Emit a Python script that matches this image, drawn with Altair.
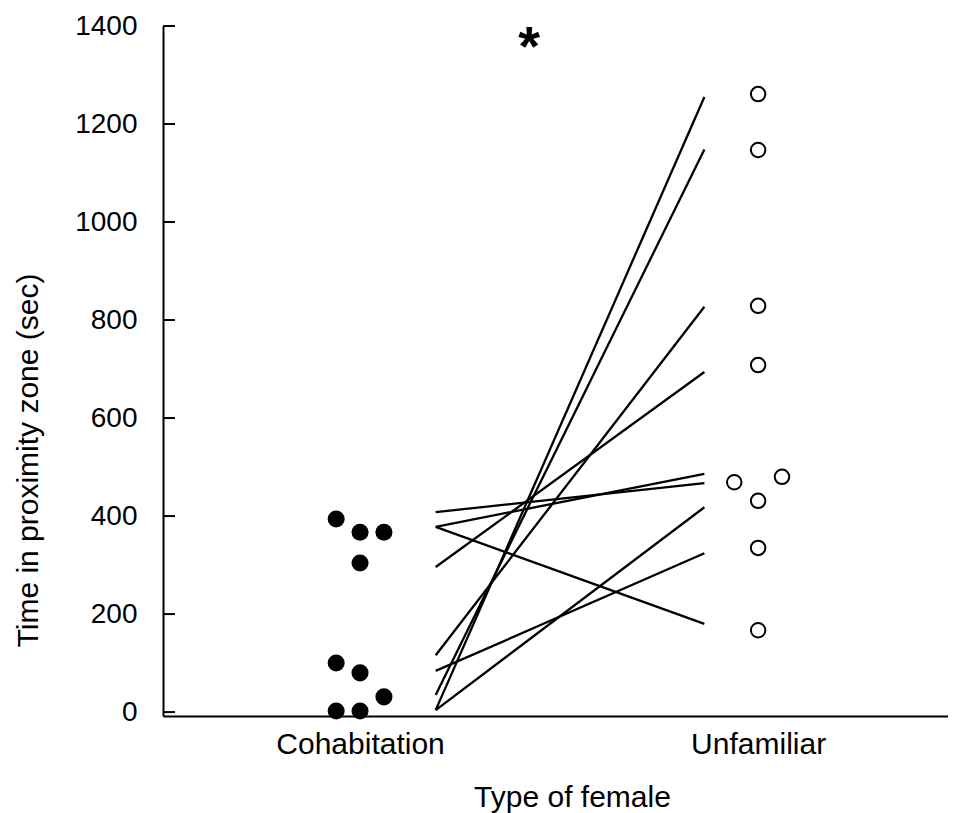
import altair as alt
import pandas as pd

# Cohabitation (filled) points
cohab_x = [0.94, 1.0, 1.06, 1.0, 0.94, 1.0, 1.06, 0.94, 1.0]
cohab_y = [394, 367, 367, 304, 100, 80, 31, 2, 2]

# Unfamiliar (open) points
unfam_x = [2.0, 2.0, 2.0, 2.0, 1.94, 2.06, 2.0, 2.0, 2.0]
unfam_y = [1261, 1147, 829, 708, 469, 480, 431, 335, 167]

# Paired lines (left value -> right value)
line_left = [4, 35, 116, 296, 378, 408, 4, 84, 378]
line_right = [1255, 1148, 827, 694, 486, 467, 418, 324, 180]
line_x_left = 1.19
line_x_right = 1.865

tick_values = [0, 200, 400, 600, 800, 1000, 1200, 1400]
cat_values = [1, 2]
cat_labels = ["Cohabitation", "Unfamiliar"]

FONT = "Liberation Sans"

xscale = alt.Scale(domain=[0.505, 2.477], nice=False, zero=False)
yscale = alt.Scale(domain=[-8, 1400], nice=False, zero=False)

cohab_df = pd.DataFrame({"x": cohab_x, "y": cohab_y})
unfam_df = pd.DataFrame({"x": unfam_x, "y": unfam_y})
rows = []
for i, (a, b) in enumerate(zip(line_left, line_right)):
    rows.append({"id": i, "x": line_x_left, "y": a})
    rows.append({"id": i, "x": line_x_right, "y": b})
lines_df = pd.DataFrame(rows)
ticks_df = pd.DataFrame({"y": tick_values})

label_expr = "datum.value == 1 ? '%s' : '%s'" % (cat_labels[0], cat_labels[1])

x_axis = alt.Axis(values=cat_values, labelExpr=label_expr, ticks=False, grid=False,
                  labelFontSize=30, labelFont=FONT, labelColor="black", labelPadding=13,
                  title="Type of female", titleFontSize=30, titleFont=FONT,
                  titleFontWeight="normal", titleColor="black", titlePadding=23,
                  titleX=409, titleAlign="center",
                  domainColor="black", domainWidth=2)
y_axis = alt.Axis(values=tick_values, format="d", ticks=False, grid=False, labelFontSize=28,
                  labelFont=FONT, labelColor="black", labelPadding=26,
                  title="Time in proximity zone (sec)", titleFontSize=30,
                  titleFont=FONT, titleFontWeight="normal",
                  titleColor="black", titlePadding=31, titleY=434, titleAlign="center",
                  domainColor="black", domainWidth=2)

base_lines = alt.Chart(lines_df).mark_line(color="black", strokeWidth=2.3).encode(
    x=alt.X("x:Q", scale=xscale, axis=x_axis),
    y=alt.Y("y:Q", scale=yscale, axis=y_axis),
    detail="id:N",
)

filled = alt.Chart(cohab_df).mark_point(shape="circle", filled=True, color="black",
                                         size=290, opacity=1).encode(
    x=alt.X("x:Q", scale=xscale), y=alt.Y("y:Q", scale=yscale))

opened = alt.Chart(unfam_df).mark_point(shape="circle", filled=False, color="black",
                                         size=210, strokeWidth=2, opacity=1).encode(
    x=alt.X("x:Q", scale=xscale), y=alt.Y("y:Q", scale=yscale))

ticks = alt.Chart(ticks_df).mark_rule(color="black", strokeWidth=2).encode(
    y=alt.Y("y:Q", scale=yscale), x=alt.value(0), x2=alt.value(12))

star_df = pd.DataFrame({"x": [1.425], "y": [1355], "t": ["*"]})
star = alt.Chart(star_df).mark_text(fontSize=56, fontWeight="bold", font=FONT,
                                     color="black", baseline="middle").encode(
    x=alt.X("x:Q", scale=xscale), y=alt.Y("y:Q", scale=yscale), text="t:N")

chart = alt.layer(base_lines, filled, opened, ticks, star).properties(
    width=785, height=690,
    background="white",
    autosize=alt.AutoSizeParams(type="none"),
    padding={"left": 155, "top": 18, "right": 0, "bottom": 105},
).configure_view(stroke=None)

chart.save("out.html", embed_options={"renderer": "svg", "actions": False})
